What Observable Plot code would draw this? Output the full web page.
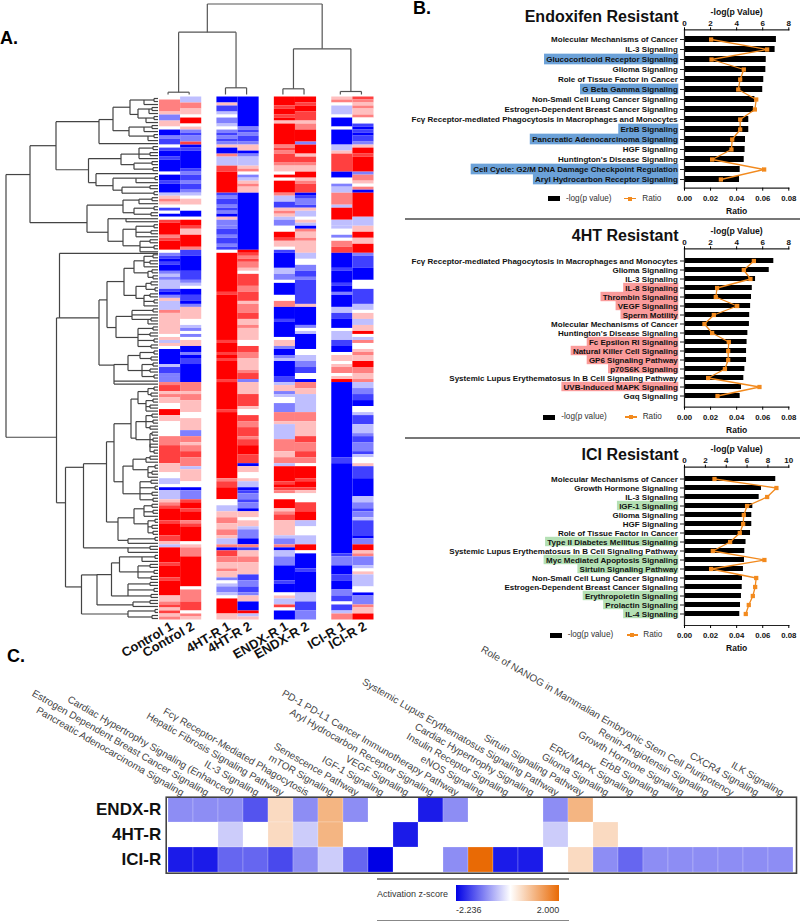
<!DOCTYPE html>
<html><head><meta charset="utf-8">
<style>
html,body{margin:0;padding:0;background:#fff;font-family:"Liberation Sans",Arial,sans-serif}
#page{position:relative;width:800px;height:921px;overflow:hidden;background:#fff}
.abs{position:absolute;white-space:nowrap}
.abs svg{overflow:visible;display:block;font-family:"Liberation Sans",Arial,sans-serif !important}
.abs svg text{font-family:"Liberation Sans",Arial,sans-serif !important}
</style>
<script src="https://cdn.jsdelivr.net/npm/d3@7"></script>
<script src="https://cdn.jsdelivr.net/npm/@observablehq/plot@0.6"></script>
</head><body><div id="page"></div>
<script>
// ---------- Panel A: heat map columns, "startRow+level" runs (A..D blue, O white, e..h red)
const sampleNames=["Control 1","Control 2","4HT-R 1","4HT-R 2","ENDX-R 1","ENDX-R 2","ICI-R 1","ICI-R 2"];
const control1="0O 1f 5e 6C 8e 10O 11A 13C 14B 16O 17B 18A 20B 21A 25O 26A 28B 29A 32D 33e 34f 35e 36O 37B 38O 39A 40O 41g 42h 46f 47g 48h 51O 52C 53B 54A 55B 56A 58C 59D 60C 61D 64B 65A 66C 67e 68D 71f 72e 79O 80e 81D 82e 83O 84A 89D 90B 92C 93C 95f 96g 98e 99f 100e 102O 104h 106e 108O 113f 116g 122e 125O 127D 129O 130A 131D 134e 135f 136g 137h 141g 142h 146g 148e 149D 150h 155g 156h 160g 161h 166e 168f 169g 170e 171g 172e 173f";
const control2="0D 2f 4e 6O 7h 9O 10e 11C 12B 13C 15g 16A 17B 18A 24B 25C 26B 28C 29B 31C 32D 33O 34e 36O 38A 40O 41h 43g 44e 46h 50f 51B 53A 58B 61C 62D 63O 64A 66B 68A 69C 70e 74O 76D 77C 78O 79C 80O 81e 83A 85C 86A 87B 89A 95f 98e 99f 101e 105O 107e 111C 113f 115e 116f 118g 120f 123D 124e 128O 130A 131C 134g 135h 137g 138h 141f 142g 143h 148O 149e 150f 153h 163O 164f 168g 171O 172f 173e";
const ht1="0A 2e 3B 5D 6O 7C 9D 10O 11C 12B 13C 14B 15C 16e 17A 19f 20D 23g 25h 32B 33C 34B 36C 37B 38C 39A 40e 41C 43C 44B 46C 47B 49C 50B 51O 52h 65g 66h 81g 82h 85g 86h 87g 88h 94g 95h 104g 105h 127f 128g 130h 134O 136D 138e 140f 142e 144f 146e 147D 149f 150A 151g 153f 155e 157f 158e 160C 161O 162D 163C 165D 166O 167h 172e";
const ht2="0A 10C 11B 12C 13B 15C 16e 18A 19C 20D 23e 24f 25O 26C 27D 28e 29f 30e 32A 51h 52g 53f 54g 55f 57e 58O 59g 63f 65g 68e 69f 72g 74e 76f 77e 81O 83g 85f 87e 91f 92g 94C 95e 99g 103e 104O 106g 108f 110g 113f 114g 116h 119g 122A 123e 125O 127e 128D 130A 131B 132C 134B 135C 137A 138e 140O 141e 143D 144C 147A 149f 150B 151e 153f 155e 159B 161C 163B 165C 166e 168A 171h 172D 173e";
const endx1="0h 3g 4h 6g 7h 8e 9h 16f 17g 18f 19g 22f 23e 25O 26h 27O 28h 32f 33D 35B 37e 38f 39e 40D 41C 43O 44O 45h 47g 48e 50O 51B 52A 57D 59C 61O 62A 66O 68f 70A 74B 75A 80O 81e 83C 84A 86C 87D 88A 93B 95D 96e 98C 99D 100O 102C 105f 108e 109D 114f 118e 120f 122D 123h 128g 129h 130g 131f 132O 134h 137e 138f 139g 141e 146D 147C 149f 150A 151D 153C 156A 161B 162A 165O 166e 167D 169g 170O 171A";
const endx2="0h 2g 3h 5g 8e 9f 11h 15C 16h 19e 20g 22f 23e 25h 27e 28f 29g 32A 33B 34C 36B 37e 38D 40O 41e 42D 43A 44f 45e 47f 48e 52D 54O 56C 58B 60C 61B 69e 70A 76C 77O 78D 79A 84O 86D 88C 90B 92O 94A 95f 97e 99D 105f 108e 113g 115f 118g 120f 122O 123h 127g 128h 130g 131e 132O 135g 138h 141D 143O 146D 149h 151O 152A 157B 158A 165D 168B 171C";
const ici1="0e 1f 2O 3D 6O 7A 10O 11A 16D 18e 19g 25A 27O 29C 30D 32f 36D 37h 41D 43D 44O 46C 47O 48f 50g 52A 57B 58A 62B 63A 65C 66A 70D 72B 74A 77O 78D 81B 83A 85O 86e 88O 89e 90f 92O 93e 94h 95A 120B 122A 152B 153C 156A 159B 161A 164C 166B 168O 169B 171D 172f";
const ici2="0g 1f 2e 3f 4e 6f 7O 9B 10A 11B 12A 13B 15C 16e 17h 19g 20h 25C 26f 28e 29O 30f 31A 32h 40D 43e 45h 47e 49h 52C 53B 57A 61O 64B 69D 71O 72e 74D 76e 78h 79O 80D 81f 82O 84e 85f 86e 88h 90f 92e 94f 95D 97C 99B 101A 103O 105D 106B 109D 112C 113B 115C 118B 119D 120O 122e 123B 127A 133D 135C 137B 138C 140D 141B 146A 147C 149h 151e 152f 153C 156D 157O 158e 159D 163O 165A 166C 169f 170e 172h";
const heatColumns=[control1,control2,ht1,ht2,endx1,endx2,ici1,ici2];
const levelOf={A:-4,B:-3,C:-2,D:-1,O:0,e:1,f:2,g:3,h:4};
const rowCount=174;

// ---------- Panel A: dendrograms, [height, rowOfStem, ...children]; a bare number is a leaf row
// r(a,b) lists the leaf rows a..b as small two-leaf forks, as the tips of the tree show
const forkHeights=[4,7,3,6,5,8];
const r=(a,b)=>{const out=[];for(let i=a,n=0;i<=b;i+=2,n++){out.push(i===b?i:[forkHeights[(a+n)%6],i+1,i,i+1]);}return out;};
const rowTree=[152,113,
 [128,25.8,
  [102,16.2,
   [59,8.2,
    [45,7.5,
     [28,3.4,[14,1,...r(0,2)],[20,5.8,[9,4,...r(3,5)],[12,7,...r(6,8)]]],
     [29,11.2,[14,10,...r(9,11)],[10,13,...r(12,14)]]],
    15],
   [69.5,24.2,
    [37,20.5,[19,19,...r(16,20)],[24,22.5,...r(21,24)]],
    [62,28.5,25,[45,29.5,[22,27,...r(26,28)],[36,31,...r(29,32)]]]]],
  [71,41.8,
   [35,36,[19,34.3,...r(33,35)],[24,38.5,...r(36,39)]],
   [50,45,[32,40.5,40,41],[35,48,[22,44,...r(42,46)],[18,49.5,...r(47,51)]]]]],
 [101.5,113.2,
  [98.5,73.5,
   51.5,
   [59,73.5,
    [51,67.5,
     [34,61.4,
      [24,57,[14,54.5,...r(52,56)],[10,58.5,...r(57,60)]],
      [22,66,[12,63,...r(61,64)],[14,67,...r(65,69)]]],
     [42,76.7,
      [26,73,...r(70,72),[10,74,...r(73,75)]],
      [20,80,...r(76,83)]]],
    [44,89.2,
     [30,89,[18,86,...r(84,87)],[16,91,...r(88,93)]],
     94,95]]],
  [92.5,135,
   [74.5,123.2,
    [51.5,122,
     [44,114.7,
      [27,108.7,
       [20,100.5,[10,98,...r(96,99)],[12,102,...r(100,104)]],
       [22,113.5,[12,108,...r(105,110)],[8,114,...r(111,118)]]],
      [35,128,
       [25,122.8,[12,120.5,...r(119,121)],[10,124,...r(122,126)]],
       [18,132,...r(127,134)]]],
     [40,141.4,
      [24,140,[14,137,...r(135,139)],[10,142,...r(140,145)]],
      [30,147.5,...r(146,148)]]],
    [30,150,...r(149,151)]],
   [76.5,163,
    [61,159,
     [46.5,158.9,
      [38.5,155,[16,153,...r(152,154)],[20,158,...r(155,160)]],
      [30,166,...r(161,166)]],
     [25,169,...r(167,169)]],
    [30,172,...r(170,173)]]]]];
const columnTree=[90.5,[62.3,[2.3,0,1],[6.7,2,3]],[45.7,[5.7,4,5],[3,6,7]]];

// ---------- Panel B
const xRange=[684,788.3];
const endoLabels=["Molecular Mechanisms of Cancer","IL-3 Signaling","Glucocorticoid Receptor Signaling","Glioma Signaling","Role of Tissue Factor in Cancer","G Beta Gamma Signaling","Non-Small Cell Lung Cancer Signaling","Estrogen-Dependent Breast Cancer Signaling","Fcγ Receptor-mediated Phagocytosis in Macrophages and Monocytes","ErbB Signaling","Pancreatic Adenocarcinoma Signaling","HGF Signaling","Huntington's Disease Signaling","Cell Cycle: G2/M DNA Damage Checkpoint Regulation","Aryl Hydrocarbon Receptor Signaling"];
const endoLogP=[7.05,6.95,6.27,6.24,6.08,6.0,5.4,5.3,4.93,4.93,4.68,4.65,4.58,4.27,4.22];
const endoRatio=[.0204,.0634,.0207,.0455,.0427,.0412,.055,.054,.0427,.0427,.0366,.036,.0212,.0611,.0279];
const endoMarked=["Glucocorticoid Receptor Signaling","G Beta Gamma Signaling","ErbB Signaling","Pancreatic Adenocarcinoma Signaling","Cell Cycle: G2/M DNA Damage Checkpoint Regulation","Aryl Hydrocarbon Receptor Signaling"];
const htLabels=["Fcγ Receptor-mediated Phagocytosis in Macrophages and Monocytes","Glioma Signaling","IL-3 Signaling","IL-8 Signaling","Thrombin Signaling","VEGF Signaling","Sperm Motility","Molecular Mechanisms of Cancer","Huntington's Disease Signaling","Fc Epsilon RI Signaling","Natural Killer Cell Signaling","GP6 Signaling Pathway","p70S6K Signaling","Systemic Lupus Erythematosus In B Cell Signaling Pathway","UVB-Induced MAPK Signaling","Gαq Signaling"];
const htLogP=[6.85,6.5,5.45,5.2,5.14,5.07,5.0,4.98,4.86,4.8,4.76,4.76,4.63,4.55,4.37,4.27];
const htRatio=[.0532,.0455,.0506,.025,.024,.0404,.0225,.0153,.0212,.034,.0335,.0335,.031,.0181,.0575,.0253];
const htMarked=["IL-8 Signaling","Thrombin Signaling","VEGF Signaling","Sperm Motility","Fc Epsilon RI Signaling","Natural Killer Cell Signaling","GP6 Signaling Pathway","p70S6K Signaling","UVB-Induced MAPK Signaling"];
const iciLabels=["Molecular Mechanisms of Cancer","Growth Hormone Signaling","IL-3 Signaling","IGF-1 Signaling","Glioma Signaling","HGF Signaling","Role of Tissue Factor in Cancer","Type II Diabetes Mellitus Signaling","Systemic Lupus Erythematosus In B Cell Signaling Pathway","Myc Mediated Apoptosis Signaling","Sirtuin Signaling Pathway","Non-Small Cell Lung Cancer Signaling","Estrogen-Dependent Breast Cancer Signaling","Erythropoietin Signaling","Prolactin Signaling","IL-4 Signaling"];
const iciLogP=[8.75,7.38,7.16,6.55,6.45,6.45,6.33,5.9,5.78,5.75,5.65,5.56,5.53,5.46,5.37,5.3];
const iciRatio=[.023,.0705,.0634,.048,.0455,.045,.0424,.035,.0217,.0613,.0204,.055,.0542,.0524,.0493,.047];
const iciMarked=["IGF-1 Signaling","Type II Diabetes Mellitus Signaling","Myc Mediated Apoptosis Signaling","Sirtuin Signaling Pathway","Erythropoietin Signaling","Prolactin Signaling","IL-4 Signaling"];

// ---------- Panel C
const pathways=["Pancreatic Adenocarcinoma Signaling","Estrogen Dependent Breast Cancer Signaling","Cardiac Hypertrophy Signaling (Enhanced)","IL-3 Signaling","Hepatic Fibrosis Signaling Pathway","Fcγ Receptor-Mediated Phagocytosis","mTOR Signaling","Senescence Pathway","IGF-1 Signaling","VEGF Signaling","Aryl Hydrocarbon Receptor Signaling","PD-1 PD-L1 Cancer Immunotherapy Pathway","eNOS Signaling","Insulin Receptor Signaling","Cardiac Hypertrophy Signaling","Systemic Lupus Erythematosus Signaling Pathway","Sirtuin Signaling Pathway","Glioma Signaling","ERK/MAPK Signaling","ErbB Signaling","Growth Hormone Signaling","Renin-Angiotensin Signaling","Role of NANOG in Mammalian Embryonic Stem Cell Pluripotency","CXCR4 Signaling","ILK Signaling"];
const resistantLines=["ENDX-R","4HT-R","ICI-R"];
const endxZ=[-1,-1,-1,-1.5,.5,-1,1,-1,null,null,-2,-1,null,null,null,-1,1,null,null,null,null,null,null,null,null];
const htZ=[null,null,-.45,null,.5,-.45,1,null,null,-2,null,null,null,null,null,-.45,null,.5,null,null,null,null,null,null,null];
const iciZ=[-2,-2,-1.34,-1.34,-1.6,-1,-.45,-1.34,-2.236,null,null,-1,2,-2,-2,null,.5,-1,-1.34,-1,-1,-1,-1,-1,-1];
const zDomain=[-2.236,0,2];
const zRange=["#0000e6","#ffffff","#e96a05"];

// ---------- helpers
const page=document.getElementById("page");
function place(node,left,top){const d=document.createElement("div");d.className="abs";d.style.left=left+"px";d.style.top=top+"px";d.appendChild(node);page.appendChild(d);return d;}
function label(text,left,top,css){const s=document.createElement("span");s.textContent=text;const d=place(s,left,top);Object.assign(d.style,css||{});return d;}
function box(left,top,w,h,bg){const d=document.createElement("div");d.className="abs";Object.assign(d.style,{left:left+"px",top:top+"px",width:w+"px",height:h+"px",background:bg});page.appendChild(d);return d;}

// ---- heat map
const heatCells=heatColumns.flatMap((col,c)=>{
  const toks=col.trim().split(/\s+/).map(t=>({start:+t.slice(0,-1),v:levelOf[t.slice(-1)]}));
  const group=Math.floor(c/2),x1=group*2.72+(c%2);
  return toks.map((t,i)=>({x1,x2:x1+1,y1:t.start,y2:i+1<toks.length?toks[i+1].start:rowCount,v:t.v}));
});
const sampleX=sampleNames.map((n,c)=>({n,x:Math.floor(c/2)*2.72+(c%2)+.5}));
const heat=Plot.plot({width:400,height:640,marginLeft:159,marginRight:26.5,marginTop:96.5,marginBottom:20.5,
  x:{domain:[0,10.16],axis:null},y:{domain:[0,rowCount],reverse:true,axis:null},
  color:{type:"linear",domain:[-4,0,4],range:["#0000ff","#ffffff","#ff0000"]},
  marks:[
    Plot.rect(heatCells,{x1:"x1",x2:"x2",y1:"y1",y2:"y2",fill:"v"}),
    Plot.text(sampleX,{x:"x",text:"n",frameAnchor:"bottom",rotate:-30,textAnchor:"end",dx:4,dy:9,fontSize:13,fontWeight:"bold",fill:"#111"})
  ]});
heat.querySelector('g[aria-label="rect"]').style.filter="blur(0.5px)";
place(heat,0,0);

// ---- row dendrogram
function flatten(node,out){
  if(typeof node==="number") return {h:0,y:node+.5};
  const [h,y,...kids]=node;
  const ks=kids.map(k=>flatten(k,out));
  ks.forEach(k=>out.push({x1:h,x2:k.h,y1:k.y,y2:k.y}));
  const ys=ks.map(k=>k.y);
  out.push({x1:h,x2:h,y1:d3.min(ys),y2:d3.max(ys)});
  return {h,y};
}
const rowLinks=[];flatten(rowTree,rowLinks);
place(Plot.plot({width:400,height:640,marginLeft:5,marginRight:242.5,marginTop:96.5,marginBottom:20.5,
  x:{domain:[152.5,0],axis:null},y:{domain:[0,rowCount],reverse:true,axis:null},
  marks:[Plot.link(rowLinks,{x1:"x1",x2:"x2",y1:"y1",y2:"y2",stroke:"#444",strokeWidth:1.2})]}),0,0);

// ---- column dendrogram
const colLinks=[];
function flatCol(node){
  if(typeof node==="number") return {h:0,x:sampleX[node].x};
  const [h,...kids]=node;const ks=kids.map(flatCol);
  ks.forEach(k=>colLinks.push({x1:k.x,x2:k.x,y1:h,y2:k.h}));
  colLinks.push({x1:ks[0].x,x2:ks[1].x,y1:h,y2:h});
  return {h,x:d3.mean(ks,k=>k.x)};
}
flatCol(columnTree);
place(Plot.plot({width:400,height:94,marginLeft:159,marginRight:26.5,marginTop:3.5,marginBottom:0,
  x:{domain:[0,10.16],axis:null},y:{domain:[0,90.5],axis:null},
  marks:[Plot.link(colLinks,{x1:"x1",x2:"x2",y1:"y1",y2:"y2",stroke:"#555",strokeWidth:1.2,dx:-2})]}),0,0);

// ---- bar panels
const ctx=document.createElement("canvas").getContext("2d");
ctx.font='bold 8px "Liberation Sans"';
function barPanel({title,labels,logP,ratio,marked,tint,xMax,topTicks,bottomTicks,top,range,axisTop,axisBottom}){
  const k=(xRange[1]-xRange[0])/xMax;
  const H=230;
  const rows=labels.map((label,i)=>({label,logP:logP[i],ratio:ratio[i]*xMax/.08}));
  const inset=-(range[1]-range[0])/labels.length*.225;
  const svg=Plot.plot({width:400,height:H,marginLeft:284,marginRight:11.7,marginTop:axisTop,marginBottom:H-axisBottom,
    x:{domain:[0,xMax],axis:null},
    y:{type:"band",domain:labels,range,paddingInner:.45,paddingOuter:.225,axis:null},
    marks:[
      Plot.barX(rows.filter(d=>marked.includes(d.label)),{y:"label",x1:d=>-(ctx.measureText(d.label).width+8.4)/k,x2:-5.7/k,fill:tint,insetTop:inset,insetBottom:inset}),
      Plot.barX(rows,{y:"label",x:"logP",fill:"#000"}),
      Plot.ruleY(labels,{y:d=>d,x1:-4/k,x2:0,stroke:"#222",strokeWidth:1}),
      Plot.frame({anchor:"top",stroke:"#222",strokeWidth:1.2}),
      Plot.frame({anchor:"bottom",stroke:"#222",strokeWidth:1.2}),
      Plot.frame({anchor:"left",stroke:"#222",strokeWidth:1.2}),
      Plot.axisX({anchor:"top",ticks:topTicks,tickSize:3,tickPadding:1,fontSize:8,fontWeight:"bold",fill:"#111",label:null}),
      Plot.axisX({anchor:"bottom",ticks:bottomTicks,tickSize:3,tickPadding:4,fontSize:7.8,fontWeight:"bold",fill:"#111",label:null,tickFormat:d=>(d/xMax*.08).toFixed(2)}),
      Plot.lineX(rows,{x:"ratio",y:"label",stroke:"#f28a1e",strokeWidth:1.3}),
      Plot.dot(rows,{x:"ratio",y:"label",symbol:"square",r:2.4,fill:"#f28a1e"}),
      Plot.text(rows,{x:0,y:"label",text:"label",textAnchor:"end",dx:-6.7,fontSize:8,fontWeight:"bold",fill:"#111"}),
      Plot.text([title],{x:0,frameAnchor:"top",lineAnchor:"bottom",textAnchor:"end",dx:-6,dy:-7.5,fontSize:16,fontWeight:"bold",fill:"#111"}),
      Plot.text(["-log(p Value)"],{x:xMax/2,frameAnchor:"top",dy:-21,fontSize:8.7,fontWeight:"bold",fill:"#111"}),
      Plot.text(["Ratio"],{x:xMax/2,frameAnchor:"bottom",dy:25.5,fontSize:8.5,fontWeight:"bold",fill:"#111"})
    ]});
  place(svg,400,top);
}
barPanel({title:"Endoxifen Resistant",labels:endoLabels,logP:endoLogP,ratio:endoRatio,marked:endoMarked,tint:"#6ba1d8",xMax:8,topTicks:[0,2,4,6,8],bottomTicks:[0,2,4,6,8],top:0,range:[30.8,187.5],axisTop:29.3,axisBottom:187.7});
barPanel({title:"4HT Resistant",labels:htLabels,logP:htLogP,ratio:htRatio,marked:htMarked,tint:"#fa9b9b",xMax:8,topTicks:[0,2,4,6,8],bottomTicks:[0,2,4,6,8],top:219,range:[30.4,187.2],axisTop:29.3,axisBottom:187.7});
barPanel({title:"ICI Resistant",labels:iciLabels,logP:iciLogP,ratio:iciRatio,marked:iciMarked,tint:"#b4e0b4",xMax:10,topTicks:[0,2,4,6,8,10],bottomTicks:[0,2.5,5,7.5,10],top:438,range:[29.4,186.2],axisTop:28.7,axisBottom:187});

function barLegend(y,xBlack,xText,xOrange,xRatio){
  box(xBlack,y-2.5,11.5,5,"#000");
  label("-log(p value)",xText,y-5,{fontSize:"8.2px",lineHeight:"10px",color:"#333"});
  box(xOrange,y-.6,11.5,1.2,"#f28a1e");
  box(xOrange+3.7,y-2,4,4,"#f28a1e");
  label("Ratio",xRatio,y-5,{fontSize:"8.2px",lineHeight:"10px",color:"#333"});
}
barLegend(198.5,548,566,624.3,642.3);
barLegend(417,543.3,561.3,625,642.7);
barLegend(635,550,567.7,626.7,643.3);

box(405,218,395,1.8,"#777");
box(405,437,395,1.8,"#777");

// ---- panel C
const zCells=[endxZ,htZ,iciZ].flatMap((vals,i)=>vals.map((z,j)=>({line:resistantLines[i],path:pathways[j],z}))).filter(d=>d.z!==null);
place(Plot.plot({width:800,height:240,marginLeft:165.7,marginRight:4,marginTop:146.7,marginBottom:17.3,
  x:{domain:pathways,padding:0,axis:null},
  y:{domain:resistantLines,padding:0,axis:null},
  color:{type:"linear",domain:zDomain,range:zRange},
  marks:[
    Plot.cell(zCells,{x:"path",y:"line",fill:"z",stroke:"#fff",strokeOpacity:.35,strokeWidth:.6}),
    Plot.frame({stroke:"#444",strokeWidth:1.6}),
    Plot.text(pathways,{x:d=>d,frameAnchor:"top",rotate:30,textAnchor:"end",dx:4,dy:-7,fontSize:10,fill:"#444"}),
    Plot.text(resistantLines,{y:d=>d,frameAnchor:"left",textAnchor:"end",dx:-5,fontSize:17,fontWeight:"bold",fill:"#111"})
  ]}),0,650);

// ---- activation legend
box(377,878.3,192,1.5,"#888");
box(377,919.6,192,1.5,"#888");
label("Activation z-score",377,889,{fontSize:"9px",lineHeight:"11px",color:"#333"});
const ramp=box(455.7,885,103.6,15.7,"");
ramp.style.background=`linear-gradient(to right,${zRange[0]} 0%,${zRange[1]} 52.8%,${zRange[2]} 100%)`;
label("-2.236",456,904.5,{fontSize:"9px",lineHeight:"11px",color:"#333"});
const hi=label("2.000",0,904.5,{fontSize:"9px",lineHeight:"11px",color:"#333"});
hi.style.left="";hi.style.right=(800-559.3)+"px";

// ---- panel letters
label("A.",0,28,{fontSize:"18px",lineHeight:"20px",fontWeight:"bold",color:"#000"});
label("B.",413,0,{fontSize:"18px",lineHeight:"16px",fontWeight:"bold",color:"#000"});
label("C.",7,646,{fontSize:"18px",lineHeight:"20px",fontWeight:"bold",color:"#000"});
</script></body></html>
